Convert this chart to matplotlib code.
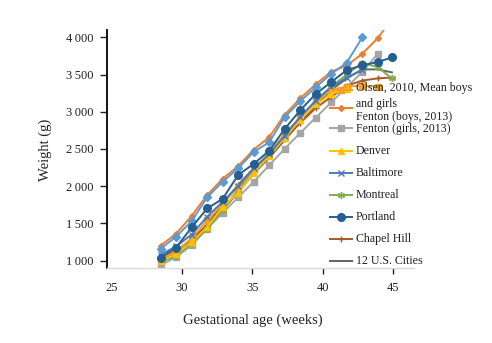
import matplotlib
matplotlib.use("Agg")
import matplotlib.pyplot as plt
from matplotlib.ticker import FuncFormatter
from matplotlib.lines import Line2D

# gestational age of each measurement (weeks)
weeks = [28.5, 29.6, 30.7, 31.8, 32.9, 34.0, 35.1, 36.2, 37.3, 38.4, 39.5, 40.6, 41.7, 42.8, 43.9, 44.9]

# mean weights (g) per series
top_blue = [1160, 1320, 1530, 1850, 2060, 2240, 2460, 2590, 2930, 3140, 3330, 3510, 3660, 4000]
olsen = [1020, 1120, 1300, 1540, 1760, 1990, 2230, 2450, 2700, 2930, 3130, 3290, 3340, 3350, 3340]
fenton_boys = [1200, 1360, 1600, 1880, 2100, 2270, 2490, 2660, 2960, 3180, 3370, 3540, 3620, 3780, 3990, 4250]
fenton_girls = [936, 1047, 1204, 1429, 1640, 1850, 2058, 2280, 2504, 2714, 2921, 3127, 3332, 3534, 3780]
denver = [990, 1090, 1250, 1450, 1720, 1910, 2180, 2400, 2650, 2890, 3100, 3240, 3310]
baltimore = [1080, 1190, 1350, 1590, 1790, 2000, 2240, 2430, 2680, 2930, 3150, 3330, 3460, 3560]
montreal = [980, 1060, 1230, 1420, 1680, 1950, 2220, 2420, 2700, 2920, 3150, 3340, 3500, 3660, 3600, 3450]
portland = [1040, 1175, 1445, 1700, 1830, 2150, 2300, 2475, 2770, 3020, 3240, 3400, 3560, 3625, 3670, 3730]
chapel_hill = [1040, 1130, 1290, 1480, 1760, 2020, 2240, 2400, 2640, 2850, 3050, 3200, 3350, 3420, 3450, 3460]
cities12 = [1010, 1100, 1260, 1450, 1680, 1920, 2170, 2380, 2620, 2860, 3090, 3290, 3450, 3570, 3570, 3530]

serif = ["Liberation Serif", "DejaVu Serif"]
plt.rcParams["font.family"] = serif

fig = plt.figure(figsize=(4.92, 3.43), dpi=100)
ax = fig.add_axes([0.2175, 0.2187, 0.6248, 0.6939])

# (label, values, colour, marker, marker size)
series = [
    ("Fenton (girls, 2013)", fenton_girls, "#A5A5A5", "s", 4.5),
    ("12 U.S. Cities", cities12, "#636363", None, 0),
    ("Chapel Hill", chapel_hill, "#A9572A", "+", 5),
    ("Montreal", montreal, "#7FAF50", (6, 2, 0), 5),
    ("Olsen, 2010, Mean boys\nand girls", olsen, "#F4A024", "s", 4.5),
    ("Denver", denver, "#FFC000", "^", 4.5),
    ("Baltimore", baltimore, "#4F79B8", "x", 4.5),
    ("Fenton (boys, 2013)", fenton_boys, "#ED7D31", "D", 3),
    (None, top_blue, "#5B9BD5", "D", 4),
    ("Portland", portland, "#255E91", "o", 5.5),
]
for label, vals, col, mk, ms in series:
    ax.plot(weeks[:len(vals)], vals, color=col, lw=1.4, marker=mk, ms=ms,
            mew=1.0, label=label if label else "_nolegend_")

ax.set_xlim(24.7, 46.5)
ax.set_ylim(900, 4100)
ax.set_xticks([25, 30, 35, 40, 45])
ax.set_yticks([1000, 1500, 2000, 2500, 3000, 3500, 4000])
ax.yaxis.set_major_formatter(FuncFormatter(lambda v, p: f"{v:,.0f}".replace(",", "\u2009")))

for s in ["top", "right"]:
    ax.spines[s].set_visible(False)
ax.spines["left"].set_color("black")
ax.spines["left"].set_linewidth(1.3)
ax.spines["bottom"].set_color("#D9D9D9")
ax.spines["bottom"].set_linewidth(1.0)
ax.tick_params(axis="y", length=5, width=1, pad=5, labelsize=9, colors="#222222")
ax.tick_params(axis="x", length=4, width=1, pad=6, labelsize=9, colors="#222222")
ax.xaxis.get_major_ticks()[0].tick1line.set_visible(False)

fig.text(45 / 492, 1 - 150 / 343, "Weight (g)", rotation=90, ha="center", va="center",
         fontsize=10.5, color="#222222")
fig.text(253 / 492, 1 - 320 / 343, "Gestational age (weeks)", ha="center", va="center",
         fontsize=10.5, color="#222222")

# legend laid out by hand beside the curve ends
by_label = {lab: (col, mk, ms) for lab, vals, col, mk, ms in series if lab}
entries = [
    ("Olsen, 2010, Mean boys\nand girls", 90, 96),
    ("Fenton (boys, 2013)", 108, 117),
    ("Fenton (girls, 2013)", 128, 129),
    ("Denver", 151, 151),
    ("Baltimore", 173, 173),
    ("Montreal", 195, 195),
    ("Portland", 217, 217),
    ("Chapel Hill", 239, 239),
    ("12 U.S. Cities", 261, 261),
]
for lab, y_handle, y_text in entries:
    col, mk, ms = by_label[lab]
    yh = 1 - y_handle / 343
    fig.add_artist(Line2D([330 / 492, 352 / 492], [yh, yh], color=col, lw=1.4,
                          transform=fig.transFigure))
    if mk is not None:
        fig.add_artist(Line2D([341 / 492], [yh], color=col, marker=mk, ms=ms, mew=1.0,
                              transform=fig.transFigure))
    fig.text(356 / 492, 1 - y_text / 343, lab, ha="left", va="center", fontsize=8.6,
             color="#222222", linespacing=1.35, zorder=10)

fig.savefig("out.png", dpi=100)
